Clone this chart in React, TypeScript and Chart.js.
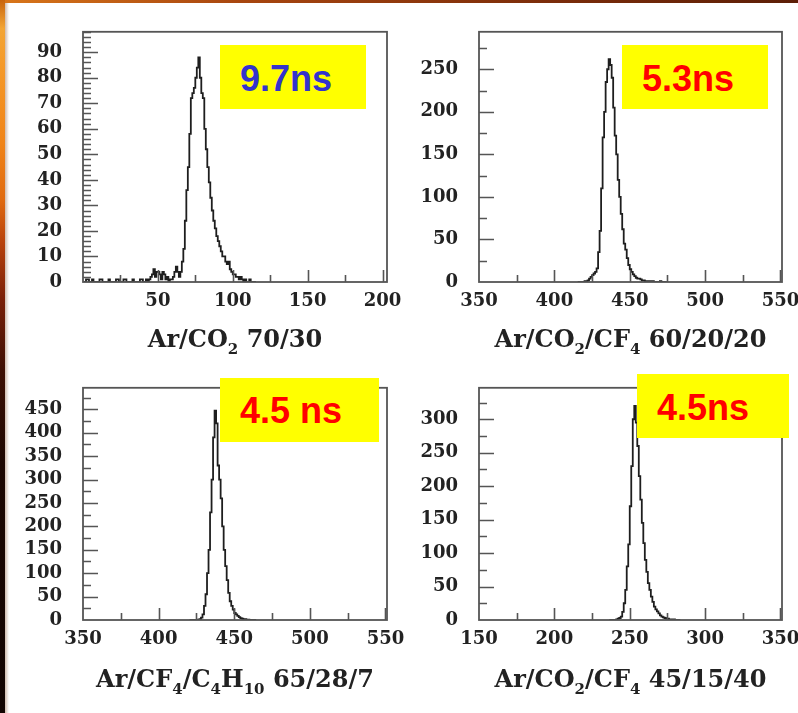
import React, { useEffect, useRef } from 'react';
import { Chart, registerables } from 'chart.js';

Chart.register(...registerables);

// ---------- DATA (counts per 1 ns bin) ----------
// Panel 1: Ar/CO2 70/30, bins start at 0
const p1Start = 0;
const p1Counts = [
  0, 0, 1, 1, 0, 0, 1, 0, 0, 0,
  0, 1, 1, 0, 0, 0, 0, 1, 0, 0,
  0, 0, 1, 1, 0, 0, 0, 1, 1, 0,
  0, 0, 0, 1, 0, 0, 0, 0, 1, 1,
  0, 0, 1, 0, 1, 2, 3, 5, 2, 4,
  4, 3, 1, 4, 3, 1, 2, 0, 1, 1,
  2, 4, 6, 4, 2, 4, 8, 13, 24, 36,
  45, 58, 72, 74, 76, 80, 84, 88, 80, 74,
  72, 60, 52, 45, 39, 33, 28, 24, 21, 18,
  16, 14, 12, 10, 10, 8, 7, 8, 5, 4,
  3, 3, 2, 2, 1, 2, 1, 0, 1, 0,
  0, 1, 0, 0, 0, 0,
];
const p1XTicks = [50, 100, 150, 200];
const p1YTicks = [0, 10, 20, 30, 40, 50, 60, 70, 80, 90];

// Panel 2: Ar/CO2/CF4 60/20/20, bins start at 415
const p2Start = 415;
const p2Counts = [
  0, 0, 0, 0, 0, 1, 1, 2, 4, 6,
  8, 10, 12, 16, 35, 60, 110, 170, 200, 235,
  250, 262, 255, 240, 205, 172, 150, 120, 100, 80,
  62, 45, 38, 28, 20, 15, 12, 9, 7, 5,
  4, 4, 3, 2, 2, 1, 1, 0, 1, 0,
  1, 0, 0, 0, 0, 1, 0, 0, 0, 0,
];
const p2XTicks = [350, 400, 450, 500, 550];
const p2YTicks = [0, 50, 100, 150, 200, 250];

// Panel 3: Ar/CF4/C4H10 65/28/7, bins start at 420
const p3Start = 420;
const p3Counts = [
  0, 0, 0, 0, 0, 0, 1, 2, 5, 12,
  30, 55, 100, 150, 230, 300, 390, 447, 420, 330,
  300, 260, 200, 150, 115, 85, 58, 40, 30, 22,
  15, 12, 9, 6, 4, 3, 2, 2, 1, 1,
  0, 0, 0, 0, 0,
];
const p3XTicks = [350, 400, 450, 500, 550];
const p3YTicks = [0, 50, 100, 150, 200, 250, 300, 350, 400, 450];

// Panel 4: Ar/CO2/CF4 45/15/40, bins start at 236
const p4Start = 236;
const p4Counts = [
  0, 0, 0, 0, 0, 1, 2, 3, 5, 12,
  25, 45, 80, 113, 170, 230, 300, 320, 295, 260,
  215, 180, 145, 115, 90, 72, 55, 45, 35, 27,
  20, 16, 13, 10, 7, 5, 4, 3, 2, 2,
  1, 1, 0, 1, 0, 0, 0, 0,
];
const p4XTicks = [150, 200, 250, 300, 350];
const p4YTicks = [0, 50, 100, 150, 200, 250, 300];

// ---------- LAYOUT / STYLE ----------
type PanelCfg = {
  left: number; top: number; width: number; height: number;
  padTop: number; padRight: number; yW: number; xH: number;
  xMin: number; xMax: number; yMax: number;
  xMinor: number; yMinor: number;
  start: number; counts: number[]; xTicks: number[]; yTicks: number[];
};

const panels: PanelCfg[] = [
  { left: 0, top: 0, width: 450, height: 360, padTop: 22, padRight: 63, yW: 83, xH: 78,
    xMin: 0, xMax: 203, yMax: 98, xMinor: 25, yMinor: 2,
    start: p1Start, counts: p1Counts, xTicks: p1XTicks, yTicks: p1YTicks },
  { left: 400, top: 0, width: 460, height: 360, padTop: 22, padRight: 78, yW: 79, xH: 78,
    xMin: 350, xMax: 551, yMax: 294, xMinor: 25, yMinor: 25,
    start: p2Start, counts: p2Counts, xTicks: p2XTicks, yTicks: p2YTicks },
  { left: 0, top: 356, width: 450, height: 357, padTop: 6, padRight: 63, yW: 83, xH: 93,
    xMin: 350, xMax: 551, yMax: 496, xMinor: 25, yMinor: 25,
    start: p3Start, counts: p3Counts, xTicks: p3XTicks, yTicks: p3YTicks },
  { left: 400, top: 356, width: 460, height: 357, padTop: 6, padRight: 78, yW: 79, xH: 93,
    xMin: 150, xMax: 351, yMax: 347, xMinor: 25, yMinor: 25,
    start: p4Start, counts: p4Counts, xTicks: p4XTicks, yTicks: p4YTicks },
];

const tickFont = { family: "'DejaVu Serif', serif", weight: 'bold' as const, size: 18 };

const rootFrame = {
  id: 'rootFrame',
  afterDraw(chart: any, _args: any, opts: any) {
    const { ctx, chartArea: a, scales } = chart;
    const xs = scales.x, ys = scales.y;
    ctx.save();
    ctx.strokeStyle = '#555';
    ctx.lineWidth = 1.6;
    ctx.beginPath();
    const yStart = Math.ceil(ys.min / opts.yMinor) * opts.yMinor;
    for (let v = yStart; v <= ys.max; v += opts.yMinor) {
      if (v === ys.min) continue;
      const p = Math.round(ys.getPixelForValue(v)) + 0.5;
      const len = opts.yTicks.includes(v) ? 15 : 8;
      ctx.moveTo(a.left, p);
      ctx.lineTo(a.left + len, p);
    }
    const xStart = Math.ceil(xs.min / opts.xMinor) * opts.xMinor;
    for (let v = xStart; v <= xs.max; v += opts.xMinor) {
      if (v === xs.min) continue;
      const p = Math.round(xs.getPixelForValue(v)) + 0.5;
      const len = opts.xTicks.includes(v) ? 12 : 7;
      ctx.moveTo(p, a.bottom);
      ctx.lineTo(p, a.bottom - len);
    }
    ctx.stroke();
    ctx.lineWidth = 1.8;
    ctx.strokeRect(a.left, a.top, a.right - a.left, a.bottom - a.top);
    ctx.restore();
  },
};

function Panel({ cfg }: { cfg: PanelCfg }) {
  const ref = useRef<HTMLCanvasElement>(null);
  useEffect(() => {
    const pts = cfg.counts.map((c, i) => ({ x: cfg.start + i + 0.5, y: c }));
    const chart = new Chart(ref.current as HTMLCanvasElement, {
      type: 'line',
      data: {
        datasets: [{
          data: pts,
          stepped: 'middle',
          borderColor: '#1e1e1e',
          borderWidth: 1.8,
          pointRadius: 0,
          fill: false,
        }],
      },
      options: {
        responsive: false,
        animation: false,
        events: [],
        layout: { padding: { left: 0, top: cfg.padTop, right: cfg.padRight, bottom: 0 } },
        plugins: {
          legend: { display: false },
          tooltip: { enabled: false },
          rootFrame: { xTicks: cfg.xTicks, yTicks: cfg.yTicks, xMinor: cfg.xMinor, yMinor: cfg.yMinor },
        } as any,
        scales: {
          x: {
            type: 'linear',
            min: cfg.xMin,
            max: cfg.xMax,
            grid: { display: false, drawTicks: false },
            border: { display: false },
            ticks: { font: tickFont, color: '#222', padding: 9, autoSkip: false, maxRotation: 0 },
            afterBuildTicks: (s: any) => { s.ticks = cfg.xTicks.map((v) => ({ value: v })); },
            afterFit: (s: any) => { s.height = cfg.xH; },
          },
          y: {
            type: 'linear',
            min: 0,
            max: cfg.yMax,
            grid: { display: false, drawTicks: false },
            border: { display: false },
            ticks: { font: tickFont, color: '#222', padding: 21, autoSkip: false },
            afterBuildTicks: (s: any) => { s.ticks = cfg.yTicks.map((v) => ({ value: v })); },
            afterFit: (s: any) => { s.width = cfg.yW; },
          },
        },
      },
      plugins: [rootFrame],
    });
    return () => chart.destroy();
  }, []);
  return (
    <canvas
      ref={ref}
      width={cfg.width}
      height={cfg.height}
      style={{ position: 'absolute', left: cfg.left, top: cfg.top, width: cfg.width, height: cfg.height }}
    />
  );
}

const titleStyle: React.CSSProperties = {
  position: 'absolute',
  fontFamily: "'DejaVu Serif', serif",
  fontWeight: 'bold',
  fontSize: 24,
  lineHeight: '28px',
  color: '#222',
  textAlign: 'center',
  whiteSpace: 'nowrap',
};
const subStyle: React.CSSProperties = { fontSize: 15, verticalAlign: -7, lineHeight: 0 };

const boxText: React.CSSProperties = {
  position: 'absolute',
  fontFamily: "'Liberation Sans', Arial, sans-serif",
  fontWeight: 'bold',
  fontSize: 36,
  lineHeight: '36px',
  whiteSpace: 'nowrap',
};

export default function App() {
  return (
    <div style={{ position: 'fixed', left: 0, top: 0, width: 798, height: 713, overflow: 'hidden', background: '#fff' }}>
      {panels.map((p, i) => <Panel key={i} cfg={p} />)}

      {/* axis titles */}
      <div style={{ ...titleStyle, left: 83, width: 304, top: 325 }}>
        Ar/CO<sub style={subStyle}>2</sub> 70/30
      </div>
      <div style={{ ...titleStyle, left: 479, width: 303, top: 325 }}>
        Ar/CO<sub style={subStyle}>2</sub>/CF<sub style={subStyle}>4</sub> 60/20/20
      </div>
      <div style={{ ...titleStyle, left: 83, width: 304, top: 665 }}>
        Ar/CF<sub style={subStyle}>4</sub>/C<sub style={subStyle}>4</sub>H<sub style={subStyle}>10</sub> 65/28/7
      </div>
      <div style={{ ...titleStyle, left: 479, width: 303, top: 665 }}>
        Ar/CO<sub style={subStyle}>2</sub>/CF<sub style={subStyle}>4</sub> 45/15/40
      </div>

      {/* yellow annotation boxes */}
      <div style={{ position: 'absolute', left: 220, top: 45, width: 146, height: 64, background: '#ffff00' }} />
      <div style={{ ...boxText, left: 240, top: 61, color: '#3333cc' }}>9.7ns</div>
      <div style={{ position: 'absolute', left: 622, top: 45, width: 146, height: 64, background: '#ffff00' }} />
      <div style={{ ...boxText, left: 642, top: 60.5, color: '#ff0000' }}>5.3ns</div>
      <div style={{ position: 'absolute', left: 220, top: 378, width: 159, height: 64, background: '#ffff00' }} />
      <div style={{ ...boxText, left: 240, top: 392.5, color: '#ff0000' }}>4.5 ns</div>
      <div style={{ position: 'absolute', left: 637, top: 374, width: 152, height: 64, background: '#ffff00' }} />
      <div style={{ ...boxText, left: 657, top: 389.5, color: '#ff0000' }}>4.5ns</div>

      {/* slide background edges */}
      <div style={{
        position: 'absolute', left: 0, top: 0, width: 798, height: 3,
        background: 'linear-gradient(to right, #d9761a 0%, #a8460f 30%, #7a2c0a 70%, #5c1e06 100%)',
      }} />
      <div style={{
        position: 'absolute', left: 0, top: 0, width: 5, height: 713,
        background: 'linear-gradient(to bottom, #c8640e 0%, #f3a535 4%, #f59a2a 9%, #f08418 20%, #e06a10 28%, #b8420c 34%, #7a2008 42%, #3e1004 52%, #1e0802 65%, #120502 100%)',
      }} />
      <div style={{
        position: 'absolute', left: 5, top: 3, width: 4, height: 710,
        background: 'linear-gradient(to right, rgba(120,60,20,0.35), rgba(255,255,255,0))',
      }} />
    </div>
  );
}
